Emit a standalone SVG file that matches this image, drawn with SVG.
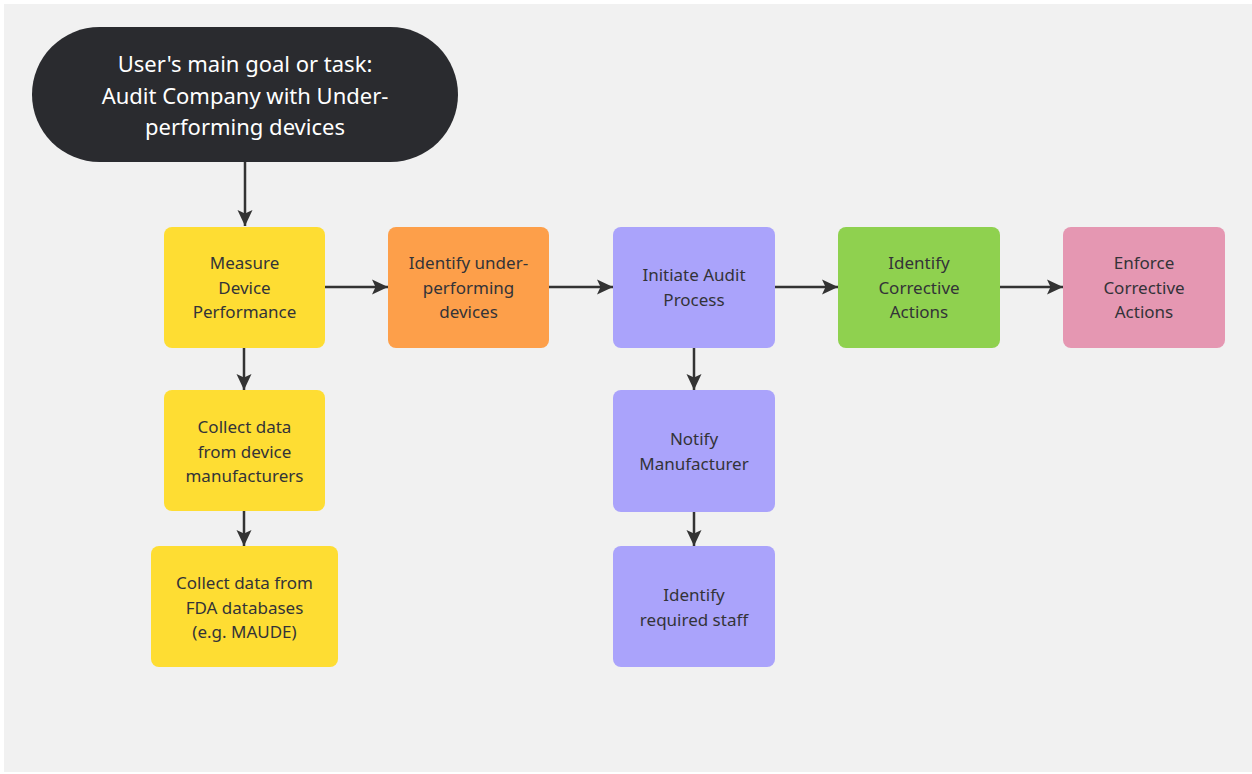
<svg xmlns="http://www.w3.org/2000/svg" width="1252" height="774" viewBox="0 0 1252 774">
<style>
.t{font-family:"Noto Sans","Open Sans",sans-serif;font-size:17px;fill:#333338;text-anchor:middle}
.tw{font-family:"Noto Sans","Open Sans",sans-serif;font-size:22px;fill:#ffffff;text-anchor:middle}
.c{stroke:#333333;stroke-width:2.5;fill:none;marker-end:url(#ah)}
.y{fill:#fedd33}.o{fill:#fd9f4a}.p{fill:#aaa3fb}.g{fill:#8fd14f}.k{fill:#e597b2}
</style>
<defs>
<marker id="ah" markerUnits="userSpaceOnUse" markerWidth="18" markerHeight="18" viewBox="0 0 18 18" refX="17" refY="9" orient="auto">
<path d="M1,1.5 L17,9 L1,16.5 L4.5,9 z" fill="#333333"/>
</marker>
</defs>
<rect x="0" y="0" width="1252" height="774" fill="#ffffff"/>
<rect x="4" y="4" width="1248" height="768" fill="#f1f1f1"/>
<g id="connectors">
<line class="c" x1="245" y1="162" x2="245" y2="226"/>
<line class="c" x1="325" y1="287" x2="388" y2="287"/>
<line class="c" x1="549" y1="287" x2="613" y2="287"/>
<line class="c" x1="775" y1="287" x2="838" y2="287"/>
<line class="c" x1="1000" y1="287" x2="1063" y2="287"/>
<line class="c" x1="244" y1="348" x2="244" y2="390"/>
<line class="c" x1="244" y1="511" x2="244" y2="546"/>
<line class="c" x1="694" y1="348" x2="694" y2="390"/>
<line class="c" x1="694" y1="512" x2="694" y2="546"/>
</g>
<g id="goal">
<rect x="32" y="27" width="426" height="135" rx="67.5" fill="#2a2b2f"/>
<text class="tw" x="245" y="72">User's main goal or task:</text>
<text class="tw" x="245" y="104">Audit Company with Under-</text>
<text class="tw" x="245" y="135">performing devices</text>
</g>
<g id="measure">
<rect class="y" x="164" y="227" width="161" height="121" rx="8"/>
<text class="t" x="244.5" y="269">Measure</text>
<text class="t" x="244.5" y="293.5">Device</text>
<text class="t" x="244.5" y="318">Performance</text>
</g>
<g id="identify-under">
<rect class="o" x="388" y="227" width="161" height="121" rx="8"/>
<text class="t" x="468.5" y="269">Identify under-</text>
<text class="t" x="468.5" y="293.5">performing</text>
<text class="t" x="468.5" y="318">devices</text>
</g>
<g id="initiate-audit">
<rect class="p" x="613" y="227" width="162" height="121" rx="8"/>
<text class="t" x="694" y="281">Initiate Audit</text>
<text class="t" x="694" y="306">Process</text>
</g>
<g id="identify-corrective">
<rect class="g" x="838" y="227" width="162" height="121" rx="8"/>
<text class="t" x="919" y="269">Identify</text>
<text class="t" x="919" y="293.5">Corrective</text>
<text class="t" x="919" y="318">Actions</text>
</g>
<g id="enforce-corrective">
<rect class="k" x="1063" y="227" width="162" height="121" rx="8"/>
<text class="t" x="1144" y="269">Enforce</text>
<text class="t" x="1144" y="293.5">Corrective</text>
<text class="t" x="1144" y="318">Actions</text>
</g>
<g id="collect-manufacturers">
<rect class="y" x="164" y="390" width="161" height="121" rx="8"/>
<text class="t" x="244.5" y="433">Collect data</text>
<text class="t" x="244.5" y="457.5">from device</text>
<text class="t" x="244.5" y="482">manufacturers</text>
</g>
<g id="collect-fda">
<rect class="y" x="151" y="546" width="187" height="121" rx="8"/>
<text class="t" x="244.5" y="589">Collect data from</text>
<text class="t" x="244.5" y="613.5">FDA databases</text>
<text class="t" x="244.5" y="638">(e.g. MAUDE)</text>
</g>
<g id="notify-manufacturer">
<rect class="p" x="613" y="390" width="162" height="122" rx="8"/>
<text class="t" x="694" y="445">Notify</text>
<text class="t" x="694" y="469.5">Manufacturer</text>
</g>
<g id="identify-staff">
<rect class="p" x="613" y="546" width="162" height="121" rx="8"/>
<text class="t" x="694" y="601">Identify</text>
<text class="t" x="694" y="625.5">required staff</text>
</g>
</svg>
